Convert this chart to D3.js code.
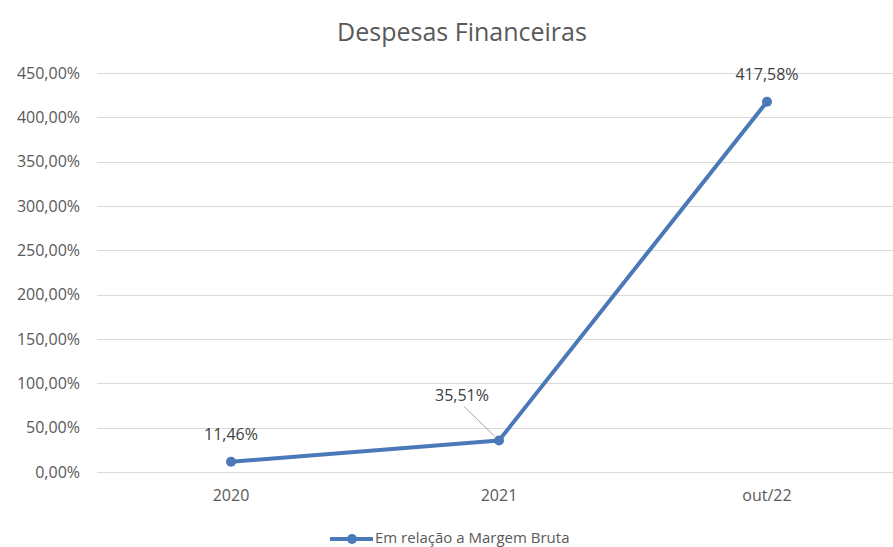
<!DOCTYPE html>
<html>
<head>
<meta charset="utf-8">
<script src="https://cdn.jsdelivr.net/npm/d3@7"></script>
<style>
  body { margin: 0; background: #fff; }
  svg { display: block; font-family: "Open Sans", sans-serif; }
</style>
</head>
<body>
<div class="canva"></div>
<script>
var categories = ["2020", "2021", "out/22"];
var values = [11.46, 35.51, 417.58];
var valueLabels = ["11,46%", "35,51%", "417,58%"];
var yTicks = [0, 50, 100, 150, 200, 250, 300, 350, 400, 450];
var seriesName = "Em relação a Margem Bruta";
var title = "Despesas Financeiras";

const width = 893, height = 547;
const margin = {top: 73, left: 97, bottom: 75};
const blue = "#4a78b8";

const svg = d3.select(".canva").append("svg")
    .attr("width", width)
    .attr("height", height);

var x = d3.scaleBand()
    .domain(categories)
    .range([margin.left, margin.left + 3 * 268]);

var y = d3.scaleLinear()
    .domain([0, 450])
    .range([height - margin.bottom, margin.top]);

// title
svg.append("text")
    .attr("x", 462)
    .attr("y", 41)
    .attr("text-anchor", "middle")
    .attr("font-size", 25)
    .attr("fill", "#595959")
    .text(title);

// gridlines
svg.append("g").selectAll("line")
    .data(yTicks)
    .enter()
    .append("line")
    .attr("x1", margin.left)
    .attr("x2", width)
    .attr("y1", d => Math.round(y(d)) + 0.5)
    .attr("y2", d => Math.round(y(d)) + 0.5)
    .attr("stroke", "#d9d9d9")
    .attr("stroke-width", 1);

// y labels
var fmt = d => d3.format(".2f")(d).replace(".", ",") + "%";
svg.append("g").selectAll("text")
    .data(yTicks)
    .enter()
    .append("text")
    .attr("x", 80)
    .attr("y", d => y(d))
    .attr("dy", "0.35em")
    .attr("text-anchor", "end")
    .attr("font-size", 16)
    .attr("fill", "#595959")
    .text(fmt);

// x labels
svg.append("g").selectAll("text")
    .data(categories)
    .enter()
    .append("text")
    .attr("x", d => x(d) + x.bandwidth() / 2)
    .attr("y", 501)
    .attr("text-anchor", "middle")
    .attr("font-size", 16)
    .attr("fill", "#595959")
    .text(d => d);

var cx = (d, i) => x(categories[i]) + x.bandwidth() / 2;

var line = d3.line()
    .x(cx)
    .y(d => y(d));

svg.append("path")
    .datum(values)
    .attr("fill", "none")
    .attr("stroke", blue)
    .attr("stroke-width", 4)
    .attr("stroke-linejoin", "round")
    .attr("d", line);

svg.append("g").selectAll("circle")
    .data(values)
    .enter()
    .append("circle")
    .attr("cx", cx)
    .attr("cy", d => y(d))
    .attr("r", 5)
    .attr("fill", blue);

// leader line for middle label
svg.append("line")
    .attr("x1", cx(values[1], 1) - 35)
    .attr("y1", y(values[1]) - 34)
    .attr("x2", cx(values[1], 1) - 4)
    .attr("y2", y(values[1]) - 4)
    .attr("stroke", "#a6a6a6")
    .attr("stroke-width", 1);

// data labels
var labelPos = [
    {dx: 0, dy: -22},
    {dx: -37, dy: -40},
    {dx: 0, dy: -22}
];
svg.append("g").selectAll("text")
    .data(values)
    .enter()
    .append("text")
    .attr("x", (d, i) => cx(d, i) + labelPos[i].dx)
    .attr("y", (d, i) => y(d) + labelPos[i].dy)
    .attr("text-anchor", "middle")
    .attr("font-size", 16)
    .attr("fill", "#404040")
    .text((d, i) => valueLabels[i]);

// legend
var lg = svg.append("g");
lg.append("line")
    .attr("x1", 330).attr("x2", 373)
    .attr("y1", 539).attr("y2", 539)
    .attr("stroke", blue)
    .attr("stroke-width", 4);
lg.append("circle")
    .attr("cx", 352).attr("cy", 539).attr("r", 5)
    .attr("fill", blue);
lg.append("text")
    .attr("x", 375).attr("y", 543)
    .attr("font-size", 15)
    .attr("fill", "#595959")
    .text(seriesName);
</script>
</body>
</html>
